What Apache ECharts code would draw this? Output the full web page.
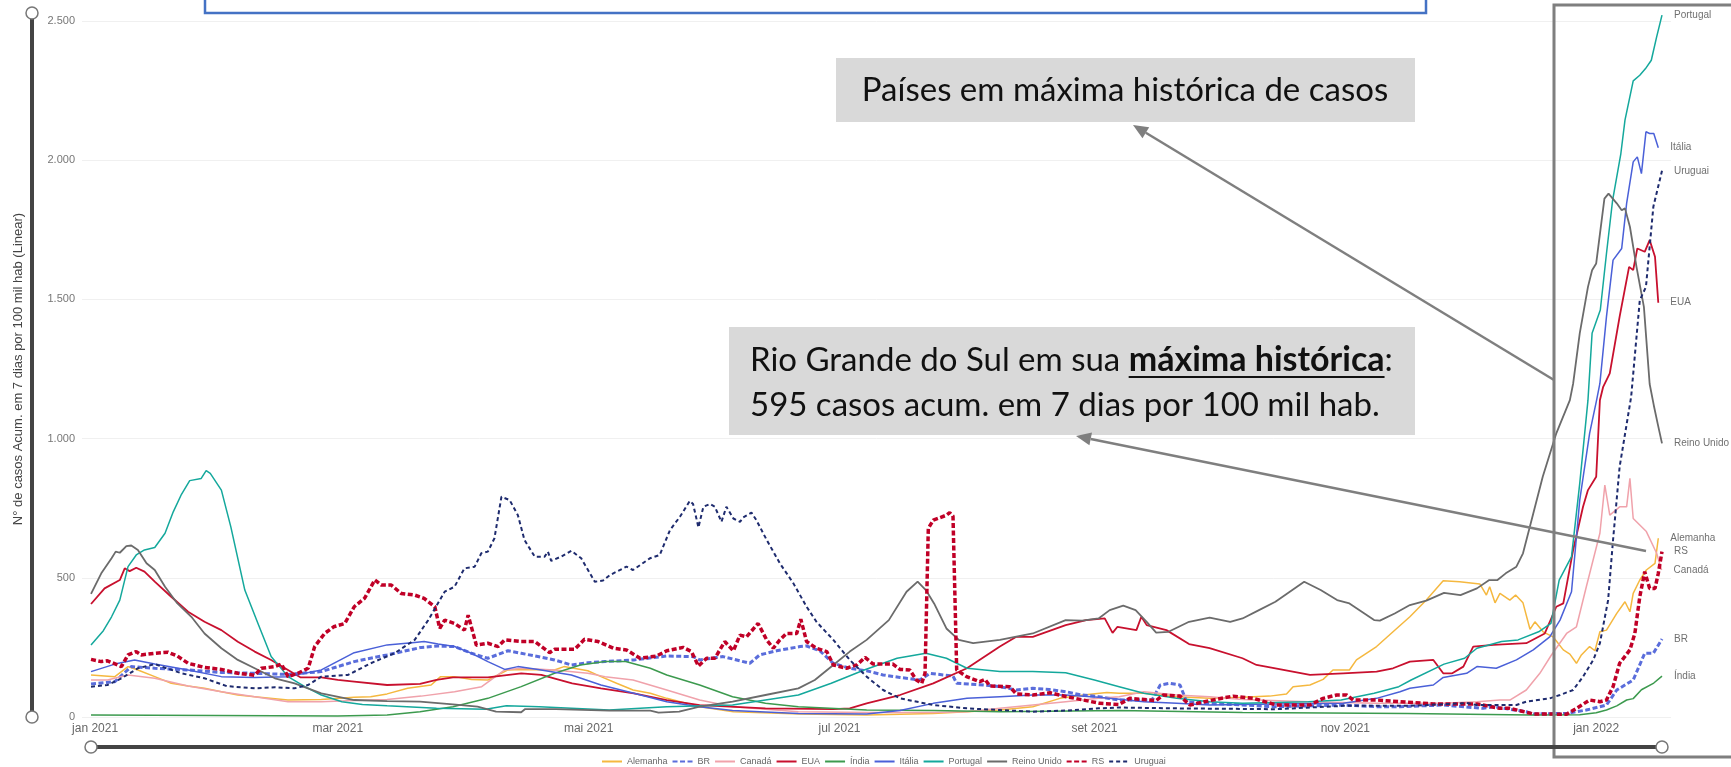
<!DOCTYPE html>
<html><head><meta charset="utf-8">
<script src="https://cdn.jsdelivr.net/npm/echarts@6/dist/echarts.min.js"></script>
<style>html,body{margin:0;padding:0;background:#fff;overflow:hidden}#c{width:1731px;height:767px}</style>
</head><body><div id="c"></div>
<script>
// x = dias desde 31/12/2020 ; y = casos acum. em 7 dias por 100 mil hab
const alemanha = [[0,151],[5.8,145],[9,181],[11.4,169],[15.5,145],[19.5,121],[23.6,111],[27.6,103],[31.7,91],[35.7,79],[39.8,73],[47.9,61],[56,63],[64,71],[68,73],[72,83],[77,103],[82.7,115],[85,145],[88.4,145],[92.5,135],[96.5,133],[101.4,169],[104.6,171],[112.7,169],[115,181],[120.8,166],[124,145],[127.8,121],[131.8,97],[136,85],[140,67],[148,37],[156.2,19],[172.4,11],[188.6,7],[204.8,13],[221,25],[229,37],[235.6,67],[241.3,79],[247,88],[250,85],[256,85],[264,73],[272,67],[280,71],[286.6,75],[290.7,83],[292.3,109],[296.4,115],[299.6,135],[302,169],[306,169],[307.7,205],[312.6,253],[316.6,306],[320.7,360],[324.7,420],[328.8,489],[332.8,486],[337.7,478],[339.3,438],[340.1,468],[341.4,410],[342.6,444],[345,420],[346.4,438],[348.2,410],[349.9,315],[351.1,342],[353.1,306],[355.5,288],[358,241],[359.6,226],[361.2,193],[362.4,223],[364.4,253],[365.7,238],[366.9,306],[368.5,312],[371,372],[373,414],[374.2,378],[375,444],[376.6,492],[378.2,528],[380.3,552],[381.1,642]];
const br = [[0,119],[5.8,127],[9.8,181],[15.5,175],[23.6,169],[31.7,160],[39.8,157],[47.9,153],[56,163],[64,199],[72,223],[80.3,250],[84.4,255],[88.4,253],[92.5,229],[96.5,211],[101.4,238],[104.6,229],[112.7,205],[116.8,187],[120.8,195],[125,199],[132,205],[140,219],[146.4,217],[148,205],[153.7,217],[160.2,193],[162.6,223],[166.7,238],[172.4,253],[174,255],[177.2,238],[180.5,193],[184.5,175],[188.6,166],[192.6,151],[196.7,142],[201.5,133],[204,157],[207.2,151],[209.6,147],[210.5,121],[217,115],[221,109],[225,97],[229,103],[233,99],[237,91],[241,79],[245,73],[250,61],[258,61],[260,115],[262.3,121],[264.8,115],[266.4,55],[272,49],[288,37],[304.5,43],[312.6,37],[318.3,37],[328.8,43],[338.5,31],[341,37],[349,19],[350.7,11],[358.8,13],[363.6,25],[368.5,43],[371,97],[375,133],[377.8,229],[379.9,229],[382,280]];
const canada = [[0,133],[4,133],[9,151],[15.5,139],[23.6,111],[31.7,91],[39.8,73],[47.9,55],[56,55],[64,59],[72,63],[80.3,75],[88.4,91],[95,109],[100.6,169],[104.6,175],[112.7,169],[120.8,157],[125,145],[131.8,133],[140,97],[148,61],[156,37],[172,19],[188.6,16],[204.8,16],[213,19],[221,31],[229,43],[237,55],[245,67],[250,73],[256,91],[264,79],[272,73],[280,63],[296,55],[312.6,49],[328.8,49],[337,55],[342.6,61],[345,61],[349,97],[352.3,157],[355,220],[358.8,300],[361.2,324],[363.6,468],[366.9,660],[368.1,833],[369.3,725],[371.7,755],[373.4,755],[374.2,857],[375,713],[378.2,666],[380.7,588],[381.9,528]];
const eua = [[0,406],[3.3,462],[7,492],[8.2,534],[9.4,524],[11,536],[13,522],[15.5,486],[19.5,432],[23.6,378],[27.6,342],[31.7,312],[35.7,270],[39.8,235],[43.8,205],[47.9,169],[51,142],[56,142],[60,133],[64,127],[72,115],[80,119],[84,133],[88,142],[96.5,142],[104.6,157],[109.5,151],[117,121],[124,103],[132,85],[140,61],[148,43],[164,31],[180.5,28],[184.5,31],[188.6,49],[196.7,79],[204.8,121],[213,175],[221,253],[225,288],[229,288],[237,330],[242,348],[246.5,354],[248.4,302],[249.6,324],[254.2,312],[255.4,360],[256.7,330],[261.5,312],[267,262],[272,247],[280,211],[283.4,187],[288,175],[296.4,151],[304.5,157],[312.6,163],[316.6,175],[320.7,199],[326.4,205],[328.8,157],[331,157],[333.7,181],[336.1,253],[341,259],[349,265],[353.5,300],[356.3,396],[358,408],[360.4,600],[362.8,755],[364,815],[366,863],[366.9,1138],[367.7,1186],[369.3,1234],[371.7,1438],[374,1617],[375,1605],[376,1683],[377.8,1671],[379,1713],[380.3,1653],[381.1,1488]];
const india = [[0,7],[30,5],[60,4],[72,7],[80,19],[88,37],[96.5,67],[104.6,109],[112.7,157],[119,187],[125,199],[130,199],[136,175],[140,151],[148,115],[156,73],[164,49],[172,37],[188.6,25],[205,23],[221,19],[250,23],[280,16],[320,13],[350,7],[362,8],[366,15],[368.5,25],[371,40],[373.4,61],[375,66],[377,98],[380,122],[382,147]];
const italia = [[0,163],[5.8,190],[10.6,205],[15.5,190],[23.6,169],[31.7,145],[39.8,142],[47.9,145],[56,169],[64,231],[72,259],[78.7,268],[81,271],[84.4,262],[88.4,253],[92.5,229],[96.5,199],[100.6,171],[103.8,181],[108.7,171],[116.8,151],[124,115],[132,85],[140,55],[148,37],[156,23],[172,13],[188.6,11],[196.7,23],[204.8,49],[213,67],[221,73],[229,79],[237,79],[245,71],[250,64],[256,55],[264,49],[272,43],[288,47],[304.5,49],[312.6,67],[318.3,91],[320.7,103],[326.4,115],[328.8,142],[334.5,157],[337,181],[341.7,175],[346.6,205],[350.7,241],[354.7,288],[357.2,348],[360,450],[362,779],[364.4,1019],[366.1,1138],[366.9,1198],[368.5,1438],[370.1,1641],[372.2,1683],[373.4,1845],[375,1994],[376,2012],[377,1952],[378.1,2102],[379,2096],[380,2096],[381.1,2045]];
const portugal = [[0,259],[3,310],[5,360],[7,420],[9,540],[11,582],[13,600],[15.5,609],[18,660],[20,737],[22,800],[24,849],[26.8,857],[28,885],[29,875],[31.7,815],[34,683],[37.4,456],[40.6,336],[43.8,217],[47.9,145],[52,109],[56,79],[61,55],[66,45],[72,40],[84,31],[96,28],[101,40],[109,37],[126,25],[140,37],[156,43],[164,61],[172,79],[180,121],[188,169],[196,211],[203,229],[208,211],[213,175],[221,163],[229,163],[237,159],[244,133],[250,109],[256,85],[264,67],[272,55],[280,49],[296,55],[304,61],[312,85],[318,109],[321,133],[329,190],[334,211],[337,247],[343,271],[347,277],[352,306],[355,336],[357,492],[360,576],[362,839],[364,1138],[365,1378],[367,1462],[368.5,1665],[370,1857],[372,2024],[373,2144],[375,2285],[376.6,2305],[378,2329],[379.4,2359],[380.7,2443],[382,2521]];
const reinoUnido = [[0,442],[2.5,516],[5,570],[6,594],[7,590],[8.6,614],[9.8,616],[11.4,600],[13.5,552],[15.5,528],[18,468],[21,408],[24.4,360],[27.6,300],[31.7,247],[35.7,205],[39.8,175],[44.7,139],[49.5,121],[56,85],[64,61],[72,57],[80,55],[88,45],[94,37],[98.5,19],[104.6,17],[105.5,28],[113,28],[126,23],[136,23],[138,16],[143,19],[148,37],[156,55],[164,79],[172,103],[176,133],[180.5,187],[184.5,235],[188.6,277],[194,348],[198.3,450],[201,486],[203,456],[205,408],[208,318],[211,277],[214.5,265],[221,277],[229,300],[237,348],[241,346],[245,354],[247.7,384],[251,400],[254,384],[256.7,342],[259,303],[262,306],[267,342],[272,357],[277,342],[280,354],[284,384],[288,414],[291.5,450],[295,486],[299,456],[303,420],[306,408],[312,348],[313.4,346],[317,372],[320.7,402],[324.7,418],[329,446],[333,438],[337,462],[340,492],[342,492],[344,516],[346.6,540],[348.2,588],[350.7,731],[353,863],[356.3,1019],[359.6,1138],[360.4,1198],[362,1378],[364,1545],[365,1605],[366,1629],[368,1862],[369,1880],[371,1845],[372.2,1820],[373,1827],[374.2,1761],[375.8,1617],[377.6,1473],[379,1196],[380,1120],[381,1050],[382,983]];
const rs = [[0,207],[2.5,199],[4,202],[7.4,181],[9,223],[11,235],[12.2,223],[15.5,229],[18.7,233],[21,219],[23.6,193],[27.6,178],[31.7,171],[35.7,157],[39.8,150],[41.4,175],[44.7,181],[46.3,190],[47.9,145],[50.3,157],[52.8,175],[54.4,253],[56.8,300],[59,324],[61.7,336],[64,396],[66.5,426],[69,492],[70.6,474],[73,474],[75.4,444],[78.7,438],[81,426],[83.6,396],[84.8,318],[86,348],[88.4,336],[90.8,312],[91.7,366],[93.7,258],[96.5,265],[99,253],[100.6,277],[104.6,271],[107.9,271],[111.5,231],[112.7,243],[117.6,243],[120,279],[123.3,271],[127,247],[130.2,241],[133.5,211],[137.5,219],[140,238],[144,250],[146,235],[147.7,183],[149.7,211],[151.7,211],[154.1,271],[156.2,238],[157.8,294],[159.4,288],[162.2,336],[164.3,277],[165.9,247],[167.5,277],[169.1,300],[171.6,300],[172.6,351],[174,271],[176.4,247],[178.9,235],[180.5,187],[183.7,175],[186.2,187],[188.2,214],[190.2,190],[195,190],[196.7,171],[199.1,169],[200.7,133],[202,121],[202.8,157],[203.6,678],[204.8,707],[208,725],[208.8,734],[209.6,722],[210.5,169],[212.9,145],[216.1,127],[217.4,135],[218.6,111],[223.4,109],[225,83],[229,79],[233.2,87],[237.2,73],[241.3,61],[245.3,49],[250,45],[252.6,67],[259,59],[260.7,79],[264.8,75],[267.2,43],[272,59],[277.7,75],[282.6,67],[288.3,43],[296.4,43],[299.6,67],[302.9,79],[305.3,79],[306.9,61],[312.6,61],[318.3,55],[326.4,47],[337,47],[342.6,31],[345,31],[350.7,11],[358.8,10],[361.2,31],[364.4,61],[366.9,55],[368.5,61],[370.1,109],[371.7,193],[374.2,241],[375.4,300],[376.6,432],[377.8,522],[379,462],[380.3,462],[381.1,516],[382,594]];
const uruguai = [[0,109],[4,115],[7.4,139],[11.4,175],[15.5,190],[18,177],[22,157],[27.6,139],[33,111],[39.8,103],[44.7,107],[49.5,103],[52.8,115],[56,145],[62.5,151],[68,193],[73.8,229],[78.7,277],[82,348],[86,450],[88.4,468],[90.8,534],[93.3,540],[94.9,588],[96.5,594],[98.1,642],[99.8,791],[101.8,779],[103.8,725],[105.4,636],[107.9,576],[110.3,576],[111.1,594],[111.9,561],[114.3,576],[116.8,597],[119.2,570],[122.5,486],[124.5,490],[126.2,510],[130.2,540],[131.8,528],[135.9,570],[138.3,582],[140.8,672],[143.2,719],[145.6,776],[146.4,765],[147.7,681],[148.9,755],[150.5,765],[151.7,755],[153.3,701],[154.5,755],[156.2,713],[157.8,701],[158.6,717],[160.6,734],[161.8,707],[164.3,636],[167.5,552],[170.8,480],[174,396],[176.4,342],[180.5,277],[184.5,205],[188.6,145],[192.6,97],[196.7,67],[204.8,43],[213,31],[221,25],[229,19],[237,23],[245,31],[250,34],[264,31],[288,28],[304.5,40],[320.7,40],[334.5,50],[337,43],[346.6,43],[349,55],[354.7,67],[357.2,79],[360.4,97],[362.8,145],[365.3,205],[366.9,265],[368.9,420],[370.1,636],[371.7,899],[374.5,1150],[376.6,1497],[378.1,1545],[379.9,1833],[382,1962]];

const seriesNames = ['Alemanha','BR','Canadá','EUA','Índia','Itália','Portugal','Reino Unido','RS','Uruguai'];
const seriesData = [alemanha, br, canada, eua, india, italia, portugal, reinoUnido, rs, uruguai];
const seriesColors = ['#F5B83F','#5A6DDB','#F0A2AB','#C8102E','#3C9A4E','#4A60D8','#14A89C','#6B6B6B','#C00027','#1E2B6E'];
const seriesWidths = [1.5,3,1.5,1.8,1.5,1.5,1.5,1.8,3.5,2];
const seriesDash = ['solid',[5,2.5],'solid','solid','solid','solid','solid','solid',[5,2.5],[4,3]];

const xTickDays = [1,60,121,182,244,305,366];
const xTickLabels = ['jan 2021','mar 2021','mai 2021','jul 2021','set 2021','nov 2021','jan 2022'];
const yTicks = [0,500,1000,1500,2000,2500];

const chart = echarts.init(document.getElementById('c'), null, {renderer:'canvas'});
const AX = '"Liberation Sans", Arial, sans-serif';

const series = seriesNames.map((n,i)=>({
  name:n, type:'line', data:seriesData[i], showSymbol:false, symbol:'none', clip:false,
  color:seriesColors[i],
  lineStyle:{color:seriesColors[i], width:seriesWidths[i], type:seriesDash[i]},
  endLabel:{show:true, formatter:'{a}', color:'#707070', fontSize:10, fontFamily:AX, distance:12},
  emphasis:{disabled:true}, z: 2
}));

function arrow(x1,y1,x2,y2){
  const dx=x2-x1, dy=y2-y1, L=Math.hypot(dx,dy), ux=dx/L, uy=dy/L;
  const hl=15, hw=6.5, bx=x2-ux*hl, by=y2-uy*hl;
  return [
    {type:'line', z:100, shape:{x1:x1,y1:y1,x2:bx,y2:by}, style:{stroke:'#7f7f7f', lineWidth:2.5}},
    {type:'polygon', z:100, shape:{points:[[x2,y2],[bx-uy*hw,by+ux*hw],[bx+uy*hw,by-ux*hw]]}, style:{fill:'#7f7f7f'}}
  ];
}

const BOXF = 'Lato, "Open Sans", sans-serif';
const FS = 33, FSB = 34;
const mctx = document.createElement('canvas').getContext('2d');
mctx.font = FS+'px Lato';
const wPre = mctx.measureText('Rio Grande do Sul em sua ').width;
mctx.font = 'bold '+FSB+'px Lato';
const wBold = mctx.measureText('máxima histórica').width;
const tx = 750;

const graphic = [
  {type:'rect', z:100, shape:{x:205,y:-20,width:1221,height:33}, style:{fill:'none', stroke:'#4472C4', lineWidth:2.5}},
  {type:'rect', z:100, shape:{x:1554,y:5,width:200,height:752}, style:{fill:'none', stroke:'#7f7f7f', lineWidth:3}},
  {type:'rect', z:100, shape:{x:836,y:58,width:579,height:64}, style:{fill:'#D9D9D9'}},
  {type:'text', z:101, x:1125, y:90, style:{text:'Países em máxima histórica de casos', fontSize:FS, fontFamily:BOXF, fill:'#111', align:'center', verticalAlign:'middle'}},
  {type:'rect', z:100, shape:{x:729,y:327,width:686,height:108}, style:{fill:'#D9D9D9'}},
  {type:'text', z:101, x:tx, y:360, style:{text:'{n|Rio Grande do Sul em sua }{b|máxima histórica}{n|:}', align:'left', verticalAlign:'middle',
     rich:{n:{fontSize:FS, fontFamily:BOXF, fill:'#111'}, b:{fontSize:FSB, fontFamily:BOXF, fontWeight:'bold', fill:'#111'}}}},
  {type:'line', z:101, shape:{x1:tx+wPre, y1:377, x2:tx+wPre+wBold, y2:377}, style:{stroke:'#111', lineWidth:1.8}},
  {type:'text', z:101, x:tx, y:405, style:{text:'595 casos acum. em 7 dias por 100 mil hab.', fontSize:FS, fontFamily:BOXF, fill:'#111', align:'left', verticalAlign:'middle'}},
  ...arrow(1554,380,1133,125),
  ...arrow(1646,551,1076,436),
  {type:'rect', z:100, shape:{x:30,y:13,width:4,height:704}, style:{fill:'#444'}},
  {type:'circle', z:101, shape:{cx:32,cy:13,r:6}, style:{fill:'#fff', stroke:'#777', lineWidth:1.5}},
  {type:'circle', z:101, shape:{cx:32,cy:717,r:6}, style:{fill:'#fff', stroke:'#777', lineWidth:1.5}},
  {type:'rect', z:100, shape:{x:91,y:745,width:1571,height:4}, style:{fill:'#444'}},
  {type:'circle', z:101, shape:{cx:91,cy:747,r:6}, style:{fill:'#fff', stroke:'#777', lineWidth:1.5}},
  {type:'circle', z:101, shape:{cx:1662,cy:747,r:6}, style:{fill:'#fff', stroke:'#777', lineWidth:1.5}}
];

chart.setOption({
  animation:false,
  backgroundColor:'#fff',
  grid:{left:82, right:60, top:21, bottom:50, containLabel:false},
  xAxis:{type:'value', min:-2.19, max:384.19,
    axisLine:{show:false}, axisTick:{show:false}, splitLine:{show:false},
    axisLabel:{customValues:xTickDays, formatter:(v)=>{const i=xTickDays.indexOf(Math.round(v)); return i>=0?xTickLabels[i]:'';},
      color:'#666', fontSize:12, fontFamily:AX, margin:6}},
  yAxis:{type:'value', min:0, max:2500, interval:500,
    axisLine:{show:false}, axisTick:{show:false},
    splitLine:{lineStyle:{color:'#F0F0F0', width:1}},
    axisLabel:{color:'#777', fontSize:11, fontFamily:AX, margin:7,
      formatter:(v)=> yTicks.includes(v) ? String(v).replace(/(\d)(?=(\d{3})+$)/,'$1.') : ''},
    name:'N° de casos Acum. em 7 dias por 100 mil hab (Linear)', nameLocation:'middle', nameRotate:90, nameGap:57,
    nameTextStyle:{color:'#444', fontSize:13, fontFamily:AX}},
  legend:{data:seriesNames, left:596, top:752, itemWidth:20, itemHeight:8, itemGap:4,
    itemStyle:{opacity:0},
    textStyle:{color:'#666', fontSize:9, fontFamily:AX}},
  series:series,
  graphic:graphic
});
</script></body></html>
